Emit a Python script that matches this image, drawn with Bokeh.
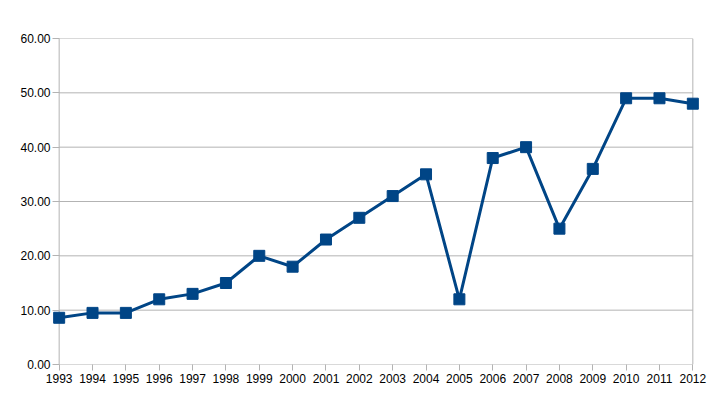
from bokeh.plotting import figure
from bokeh.models import Range1d, FixedTicker, PrintfTickFormatter
from bokeh.embed import file_html
from bokeh.resources import INLINE

years = [1993, 1994, 1995, 1996, 1997, 1998, 1999, 2000, 2001, 2002,
         2003, 2004, 2005, 2006, 2007, 2008, 2009, 2010, 2011, 2012]
values = [8.6, 9.5, 9.5, 12, 13, 15, 20, 18, 23, 27,
          31, 35, 12, 38, 40, 25, 36, 49, 49, 48]
y_ticks = [0, 10, 20, 30, 40, 50, 60]

GRID = "#b3b3b3"
LINE = "#004586"
FONT = "Liberation Sans"

pad = 0.2
p = figure(frame_width=647, frame_height=326,
           min_border_left=52, min_border_right=11,
           min_border_top=38, min_border_bottom=35,
           x_range=Range1d(years[0] - pad, years[-1] + pad),
           y_range=Range1d(y_ticks[0], y_ticks[-1]),
           output_backend="svg", toolbar_location=None)
p.outline_line_color = None
p.xgrid.visible = False
p.ygrid.visible = False
p.background_fill_color = "white"
p.border_fill_color = "white"

# horizontal gridlines spanning the category extent
p.segment(x0=[years[0]] * len(y_ticks), x1=[years[-1]] * len(y_ticks),
          y0=y_ticks, y1=y_ticks, line_color=GRID, line_width=1)
# left axis line and right border
p.segment(x0=[years[0], years[-1]], x1=[years[0], years[-1]],
          y0=[y_ticks[0]] * 2, y1=[y_ticks[-1]] * 2, line_color=GRID, line_width=1)

p.line(years, values, line_color=LINE, line_width=3)
p.scatter(years, values, marker="square", size=11, fill_color=LINE, line_color=LINE)

xa = p.xaxis[0]
xa.ticker = FixedTicker(ticks=years)
xa.axis_line_color = None
xa.major_tick_line_color = GRID
xa.major_tick_in = 0
xa.major_tick_out = 6
xa.minor_tick_line_color = None
xa.major_label_standoff = 3
xa.major_label_text_font = FONT
xa.major_label_text_font_size = "12px"
xa.major_label_text_color = "black"

ya = p.yaxis[0]
ya.ticker = FixedTicker(ticks=y_ticks)
ya.formatter = PrintfTickFormatter(format="%.2f")
ya.axis_line_color = None
ya.major_tick_line_color = GRID
ya.major_tick_in = 7
ya.major_tick_out = 0
ya.minor_tick_line_color = None
ya.major_label_standoff = 2
ya.major_label_text_font = FONT
ya.major_label_text_font_size = "12px"
ya.major_label_text_color = "black"

open("out.html", "w").write(file_html(p, INLINE))
